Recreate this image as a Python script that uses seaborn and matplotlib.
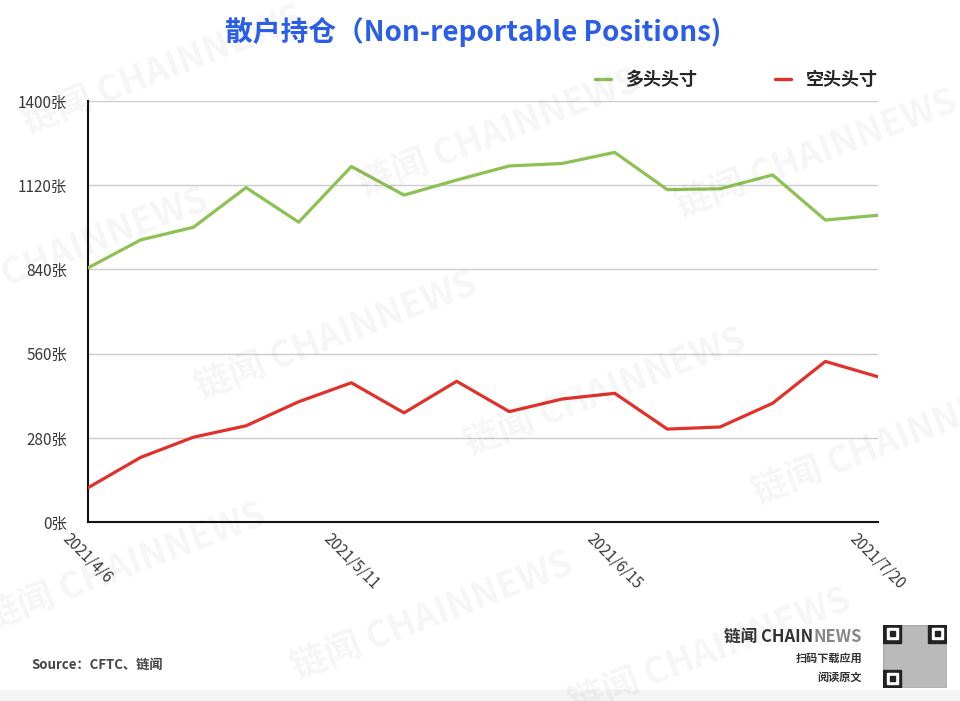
import pandas as pd
import numpy as np
import matplotlib
matplotlib.use("Agg")
import matplotlib.pyplot as plt
import seaborn as sns

# --- Data ---
dates = ["2021-04-06", "2021-04-13", "2021-04-20", "2021-04-27", "2021-05-04",
         "2021-05-11", "2021-05-18", "2021-05-25", "2021-06-01", "2021-06-08",
         "2021-06-15", "2021-06-22", "2021-06-29", "2021-07-06", "2021-07-13",
         "2021-07-20"]
long_pos = [845, 938, 980, 1112, 997, 1182, 1087, 1137, 1184, 1192,
            1229, 1105, 1108, 1154, 1004, 1020]
short_pos = [114, 215, 282, 320, 400, 463, 363, 468, 367, 409,
             428, 309, 316, 395, 534, 483]
series_names = ["多头头寸", "空头头寸"]
series_colors = ["#8dc153", "#e0312b"]
y_ticks = [0, 280, 560, 840, 1120, 1400]
x_tick_dates = ["2021-04-06", "2021-05-11", "2021-06-15", "2021-07-20"]
x_tick_labels = ["2021/4/6", "2021/5/11", "2021/6/15", "2021/7/20"]

df = pd.DataFrame({
    "date": pd.to_datetime(dates * 2),
    "value": long_pos + short_pos,
    "series": [series_names[0]] * len(dates) + [series_names[1]] * len(dates),
})

sns.set_style("white")
plt.rcParams["font.family"] = ["Noto Sans CJK SC", "DejaVu Sans"]

fig = plt.figure(figsize=(9.6, 7.01), dpi=100)
ax = fig.add_axes([0.0917, 0.2553, 0.8229, 0.6007])

# --- Watermark ---
wm_pos = [(0.17, 0.90), (0.52, 0.81), (0.85, 0.78), (0.07, 0.64), (0.35, 0.52),
          (0.63, 0.44), (0.93, 0.37), (0.13, 0.19), (0.45, 0.12), (0.74, 0.07)]
for px, py in wm_pos:
    fig.text(px, py, "链闻 CHAINNEWS", fontsize=26, fontweight="bold", color="#000000",
             alpha=0.038, rotation=21, ha="center", va="center", zorder=0)

sns.lineplot(data=df, x="date", y="value", hue="series", palette=series_colors,
             linewidth=2.3, ax=ax, legend=False, zorder=3)

ax.set_ylim(0, 1400)
ax.set_xlim(pd.to_datetime(dates[0]), pd.to_datetime(dates[-1]))
ax.set_yticks(y_ticks)
ax.set_yticklabels([f"{v}张" for v in y_ticks], fontsize=11, color="#3a3a3a")
ax.set_xticks(pd.to_datetime(x_tick_dates))
ax.set_xticklabels(x_tick_labels, rotation=-45, ha="center", va="top",
                   fontsize=11, color="#3a3a3a")
ax.tick_params(axis="both", length=0)
ax.tick_params(axis="y", pad=15)
ax.tick_params(axis="x", pad=6)
ax.set_xlabel("")
ax.set_ylabel("")
ax.grid(axis="y", color="#cccccc", linewidth=1)
ax.patch.set_alpha(0)
for s in ["top", "right"]:
    ax.spines[s].set_visible(False)
for s in ["left", "bottom"]:
    ax.spines[s].set_color("#111111")
    ax.spines[s].set_linewidth(1.5)

# --- Legend ---
handles = [plt.Line2D([], [], color=c, linewidth=2.4) for c in series_colors]
ax.legend(handles, series_names, loc="lower right", bbox_to_anchor=(1.02, 0.99),
          ncol=2, frameon=False, handlelength=0.9, handletextpad=0.8,
          columnspacing=4.3, prop={"size": 13, "weight": "bold"})

# --- Title ---
fig.text(0.493, 0.954, "散户持仓（Non-reportable Positions)", fontsize=20,
         fontweight="bold", color="#2a5de8", ha="center", va="center")

# --- Footer ---
fig.text(0.033, 0.051, "Source：CFTC、链闻", fontsize=9.5, fontweight="bold",
         color="#444444", ha="left", va="center")
fig.text(0.7545, 0.091, "链闻 CHAIN", fontsize=12, fontweight="bold",
         color="#333333", ha="left", va="center")
fig.text(0.898, 0.091, "NEWS", fontsize=12, fontweight="bold",
         color="#888888", ha="right", va="center")
fig.text(0.898, 0.061, "扫码下载应用", fontsize=8, fontweight="bold",
         color="#333333", ha="right", va="center")
fig.text(0.898, 0.034, "阅读原文", fontsize=8, fontweight="bold",
         color="#333333", ha="right", va="center")

# QR code placeholder
qr = fig.add_axes([0.920, 0.019, 0.066, 0.090])
qr.set_xlim(0, 7)
qr.set_ylim(0, 7)
qr.axis("off")
qr.add_patch(plt.Rectangle((0, 0), 7, 7, color="#777777", alpha=0.5))
for cx, cy in [(0, 0), (0, 5), (5, 5)]:
    qr.add_patch(plt.Rectangle((cx, cy), 2, 2, color="#222222"))
    qr.add_patch(plt.Rectangle((cx + 0.4, cy + 0.4), 1.2, 1.2, color="white"))
    qr.add_patch(plt.Rectangle((cx + 0.7, cy + 0.7), 0.6, 0.6, color="#222222"))

fig.patches.append(plt.Rectangle((0, 0), 1, 0.015, transform=fig.transFigure,
                                 color="#f4f4f4", zorder=0))

fig.savefig("out.png", dpi=100)
